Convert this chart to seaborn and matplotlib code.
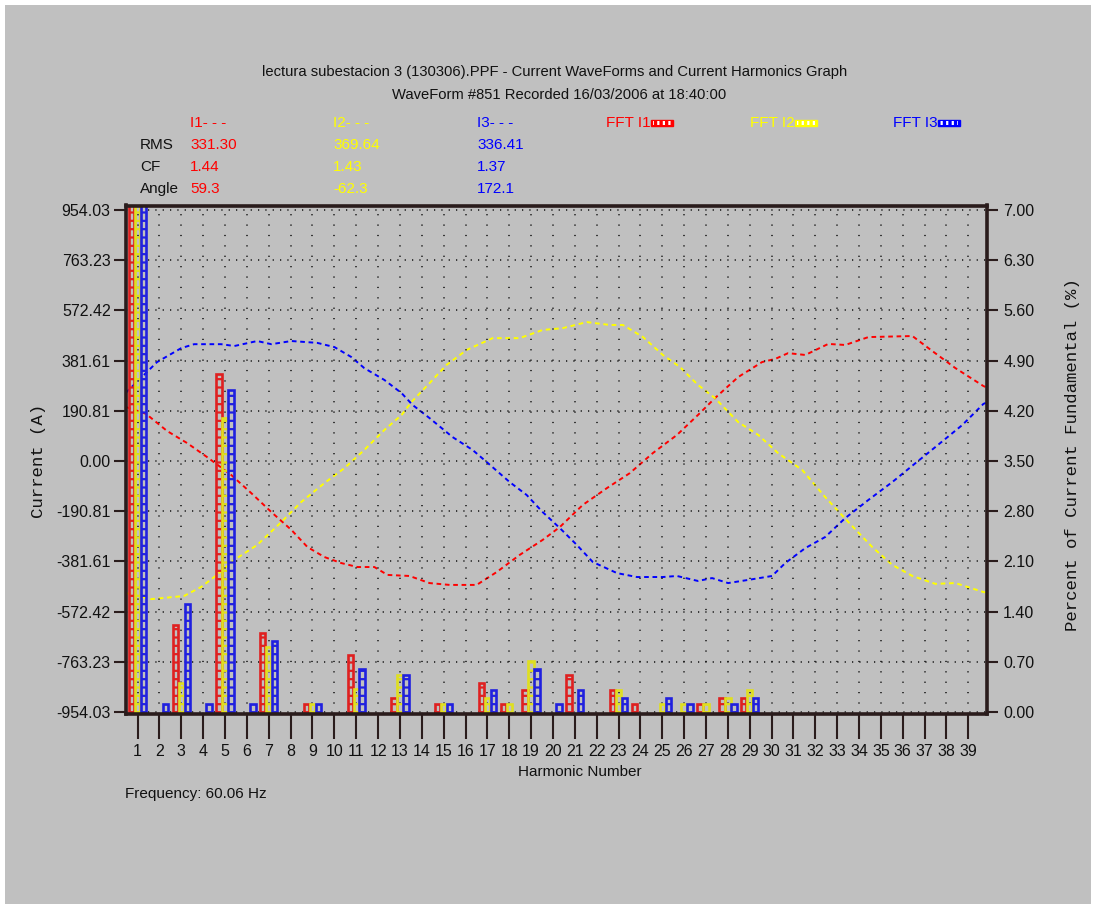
import numpy as np
import pandas as pd
import matplotlib
matplotlib.use("Agg")
import matplotlib.pyplot as plt
from matplotlib.patches import Rectangle
import seaborn as sns

# ---------------------------------------------------------------- data
harmonics = list(range(1, 40))

# FFT magnitude of each harmonic, percent of the fundamental (0 = none)
fft_i1 = [100.0, 0, 1.21, 0, 4.71, 0, 1.10, 0, 0.11, 0,
          0.79, 0, 0.20, 0, 0.11, 0, 0.40, 0.11, 0.31, 0,
          0.51, 0, 0.31, 0.11, 0, 0, 0.11, 0.20, 0.20, 0,
          0, 0, 0, 0, 0, 0, 0, 0, 0]
fft_i2 = [100.0, 0, 0.40, 0, 4.10, 0, 0.91, 0, 0.11, 0,
          0.32, 0, 0.51, 0, 0.11, 0, 0.20, 0.11, 0.71, 0,
          0, 0, 0.31, 0, 0.11, 0.11, 0.11, 0.20, 0.31, 0,
          0, 0, 0, 0, 0, 0, 0, 0, 0]
fft_i3 = [100.0, 0.11, 1.50, 0.11, 4.49, 0.11, 0.99, 0, 0.11, 0,
          0.60, 0, 0.51, 0, 0.11, 0, 0.31, 0, 0.60, 0.11,
          0.31, 0, 0.20, 0, 0.20, 0.11, 0, 0.11, 0.20, 0,
          0, 0, 0, 0, 0, 0, 0, 0, 0]

# one cycle of the phase currents (angle in degrees, current in A)
i1_deg = [0, 6.3, 8.4, 17.2, 25.6, 33.9, 44.0, 52.4, 60.8, 69.2, 75.9, 83.0,
          90.1, 96.8, 103.9, 109.4, 118.6, 127.0, 135.4, 146.7, 155.1, 164.7,
          174.3, 181.5, 191.1, 201.2, 210.8, 220.4, 230.5, 239.3, 246.4, 256.1,
          266.1, 271.6, 277.0, 284.2, 293.8, 300.9, 310.6, 329.0, 335.7, 347.0,
          358.7, 360]
i1_amp = [205, 186, 179, 114, 68, 15, -53, -122, -194, -262, -327, -365,
          -388, -403, -403, -433, -437, -464, -471, -471, -422, -357,
          -300, -251, -167, -103, -46, 30, 99, 175, 239, 319,
          376, 388, 410, 403, 445, 441, 471, 475, 429, 353,
          285, 280]

i2_deg = [0, 10.5, 24.3, 31.4, 36.9, 45.3, 54.9, 65.0, 73.3, 83.0, 91.4, 99.7,
          108.1, 115.3, 119.4, 127.0, 134.1, 142.5, 153.4, 164.7, 174.3, 182.7,
          192.8, 202.4, 207.9, 216.3, 224.6, 231.8, 239.3, 246.4, 256.1, 264.5,
          272.8, 282.9, 292.5, 302.2, 312.2, 320.6, 329.0, 338.6, 347.0, 358.7,
          360]
i2_amp = [-502, -525, -513, -479, -441, -376, -319, -232, -156, -84, -27, 42,
          118, 175, 224, 296, 365, 422, 467, 467, 498, 505,
          528, 517, 517, 471, 403, 357, 289, 239, 148, 99,
          30, -34, -137, -232, -327, -395, -437, -467, -464, -498,
          -500]

i3_deg = [0, 7.5, 13.0, 23.1, 28.5, 39.8, 45.3, 54.9, 60.8, 69.2, 80.0, 87.2,
          94.3, 99.7, 108.1, 115.3, 119.9, 127.0, 136.6, 145.0, 150.9, 160.5,
          167.6, 174.3, 181.5, 188.6, 195.3, 205.4, 213.7, 224.6, 230.5, 239.3,
          245.2, 251.9, 260.3, 270.3, 275.8, 284.2, 292.5, 300.9, 310.6, 320.6,
          330.3, 338.6, 349.9, 358.7, 360]
i3_amp = [260, 327, 376, 429, 444, 444, 437, 456, 444, 456, 449, 433,
          395, 353, 308, 258, 213, 163, 91, 42, -4, -80,
          -129, -194, -255, -319, -384, -426, -441, -441, -437, -456,
          -445, -464, -452, -437, -388, -331, -289, -217, -148, -80,
          -8, 53, 137, 217, 222]

phase_names = ["I1", "I2", "I3"]
rms_values = ["331.30", "369.64", "336.41"]
cf_values = ["1.44", "1.43", "1.37"]
angle_values = ["59.3", "-62.3", "172.1"]

current_ticks = ["954.03", "763.23", "572.42", "381.61", "190.81", "0.00",
                 "-190.81", "-381.61", "-572.42", "-763.23", "-954.03"]
percent_ticks = ["7.00", "6.30", "5.60", "4.90", "4.20", "3.50",
                 "2.80", "2.10", "1.40", "0.70", "0.00"]

# ---------------------------------------------------------------- style
GRAY = "#c0c0c0"
RED, YELLOW, BLUE = "#ff0000", "#ffff00", "#0000ff"
DARK = "#2a1c1c"
INK = "#111111"
palette = {"I1": RED, "I2": YELLOW, "I3": BLUE}

sns.set_theme(style="white")
plt.rcParams["font.family"] = ["Liberation Sans", "DejaVu Sans"]
plt.rcParams["hatch.linewidth"] = 1.6
MONO = ["Liberation Mono", "DejaVu Sans Mono"]

W, H = 1096, 909
fig = plt.figure(figsize=(W / 100, H / 100), dpi=100)
fig.patch.set_facecolor("white")
fig.patches.append(Rectangle((5 / W, 5 / H), (W - 10) / W, (H - 10) / H,
                             transform=fig.transFigure, facecolor=GRAY,
                             edgecolor="none", zorder=-10))


def fx(x):
    return x / W


def fy(y):
    return 1 - y / H


left, right, top, bottom = 126, 986.5, 205.5, 713.5
rect = [fx(left), fy(bottom), (right - left) / W, (bottom - top) / H]

# waveform axes (left current scale), underneath
ax_w = fig.add_axes(rect)
ax_w.set_facecolor(GRAY)
amp_top = 954.03 + 4.5 * 1908.06 / 502
amp_bot = -954.03 - 1.5 * 1908.06 / 502
for deg, amp, name in [(i1_deg, i1_amp, "I1"), (i2_deg, i2_amp, "I2"),
                       (i3_deg, i3_amp, "I3")]:
    sns.lineplot(x=deg, y=amp, ax=ax_w, color=palette[name], lw=1.4,
                 linestyle=(0, (2.4, 1.9)), sort=False)
ax_w.set_xlim(0, 360)
ax_w.set_ylim(amp_bot, amp_top)
ax_w.set_xticks([])
ax_w.set_yticks([float(t) for t in current_ticks])
ax_w.set_yticklabels(current_ticks)
ax_w.tick_params(axis="y", left=True, length=9, width=1.5, color=DARK,
                 pad=2, labelsize=11.5, labelcolor=INK)
for s in ax_w.spines.values():
    s.set_visible(False)
ax_w.set_xlabel("")
ax_w.set_ylabel("")

# harmonic spectrum axes (right percent scale), on top
ax_h = fig.add_axes(rect)
ax_h.patch.set_alpha(0)
df = pd.DataFrame({
    "harmonic": harmonics * 3,
    "phase": ["I1"] * 39 + ["I2"] * 39 + ["I3"] * 39,
    "pct": fft_i1 + fft_i2 + fft_i3,
})
df = df[df["pct"] > 0]
sns.barplot(data=df, x="harmonic", y="pct", hue="phase",
            hue_order=phase_names, palette=palette, native_scale=True,
            width=0.82, gap=0.1, legend=False, ax=ax_h, errorbar=None)
for p in ax_h.patches:
    c = p.get_facecolor()
    p.set_facecolor("none")
    p.set_edgecolor(c)
    p.set_linewidth(1.9)
    p.set_hatch("--")

pct_top = 7 + 4.5 * 7 / 502
pct_bot = -1.5 * 7 / 502
ax_h.set_ylim(pct_bot, pct_top)
ax_h.set_xlim(0.47, 39.83)
ax_h.set_xticks(harmonics)
ax_h.set_xticklabels([str(h) for h in harmonics])
ax_h.yaxis.tick_right()
ax_h.set_yticks([float(t) for t in percent_ticks])
ax_h.set_yticklabels(percent_ticks)
ax_h.tick_params(axis="y", right=True, left=False, length=8, width=1.5,
                 color=DARK, pad=4, labelsize=11.5, labelcolor=INK)
ax_h.tick_params(axis="x", bottom=True, length=18, width=1.5, color=DARK,
                 pad=4, labelsize=11.5, labelcolor=INK)
ax_h.set_axisbelow(True)
ax_h.xaxis.grid(True, color=INK, linestyle=(0, (0.8, 6.0)), lw=1.1)
ax_h.yaxis.grid(True, color=INK, linestyle=(0, (0.8, 4.0)), lw=1.1)
for s in ax_h.spines.values():
    s.set_visible(True)
    s.set_color(DARK)
    s.set_linewidth(2.6)
ax_h.set_xlabel("")
ax_h.set_ylabel("")

# ---------------------------------------------------------------- texts
fig.text(fx(555), fy(72), "lectura subestacion 3 (130306).PPF - Current "
         "WaveForms and Current Harmonics Graph", ha="center", va="center",
         fontsize=10.6, color=INK)
fig.text(fx(559), fy(95), "WaveForm #851 Recorded 16/03/2006 at 18:40:00",
         ha="center", va="center", fontsize=10.6, color=INK)

cols = [190, 333, 477]
for x, name, rms, cf, ang in zip(cols, phase_names, rms_values, cf_values,
                                 angle_values):
    col = palette[name]
    fig.text(fx(x), fy(123), f"{name}- - -", ha="left", va="center",
             fontsize=11, color=col)
    fig.text(fx(x), fy(145), rms, ha="left", va="center", fontsize=11,
             color=col)
    fig.text(fx(x), fy(167), cf, ha="left", va="center", fontsize=11,
             color=col)
    fig.text(fx(x), fy(189), ang, ha="left", va="center", fontsize=11,
             color=col)
for y, lab in [(145, "RMS"), (167, "CF"), (189, "Angle")]:
    fig.text(fx(140), fy(y), lab, ha="left", va="center", fontsize=11,
             color=INK)

for x, name in zip([606, 750, 893], phase_names):
    col = palette[name]
    fig.text(fx(x), fy(123), f"FFT {name}", ha="left", va="center",
             fontsize=11, color=col)
    fig.patches.append(Rectangle((fx(x + 45), fy(126)), 22 / W, 6 / H,
                                 transform=fig.transFigure, facecolor=col,
                                 edgecolor=col, lw=1.0))
    fig.patches.append(Rectangle((fx(x + 47), fy(124.5)), 18 / W, 3 / H,
                                 transform=fig.transFigure, facecolor="none",
                                 edgecolor="white", hatch="|||", lw=0))

fig.text(fx(38), fy(461), "Current (A)", rotation=90, ha="center",
         va="center", fontsize=12.5, family=MONO, color=INK)
fig.text(fx(1072), fy(455), "Percent of Current Fundamental (%)",
         rotation=90, ha="center", va="center", fontsize=12.5, family=MONO,
         color=INK)
fig.text(fx(580), fy(772), "Harmonic Number", ha="center", va="center",
         fontsize=11, color=INK)
fig.text(fx(125), fy(794), "Frequency: 60.06 Hz", ha="left", va="center",
         fontsize=11, color=INK)

fig.savefig("out.png", dpi=100, facecolor=fig.get_facecolor())
